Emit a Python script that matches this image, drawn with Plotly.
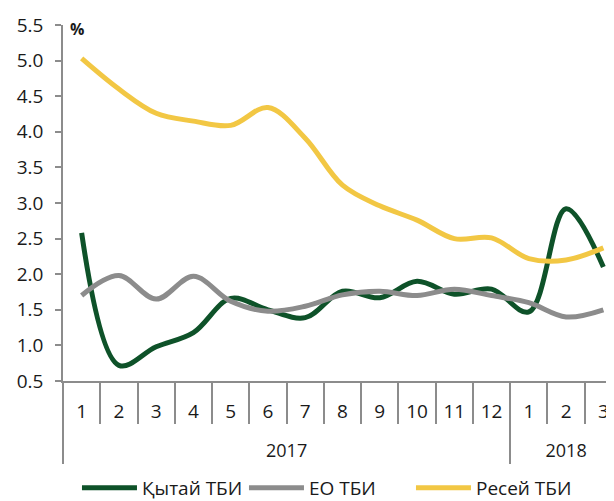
import plotly.graph_objects as go

# Categories
years = ["2017"] * 12 + ["2018"] * 3
months = [str(m) for m in range(1, 13)] + ["1", "2", "3"]
year_labels = ["2017", "2018"]

# Series values (%)
china = [2.58, 0.72, 0.98, 1.18, 1.66, 1.50, 1.39, 1.76, 1.67, 1.90, 1.72, 1.79, 1.47, 2.92, 2.10]
eu = [1.70, 1.98, 1.65, 1.97, 1.62, 1.48, 1.55, 1.71, 1.76, 1.70, 1.79, 1.70, 1.60, 1.40, 1.50]
russia = [5.03, 4.60, 4.26, 4.15, 4.09, 4.34, 3.91, 3.25, 2.96, 2.76, 2.50, 2.51, 2.22, 2.20, 2.37]

series = [
    ("Қытай ТБИ", china, "#0E5229"),
    ("ЕО ТБИ", eu, "#8C8C8C"),
    ("Ресей ТБИ", russia, "#F2C744"),
]

FONT = "Open Sans"
AXIS_GREY = "#8C8C8C"

cats = [f"{y}-{m}" for y, m in zip(years, months)]
n = len(cats)
x_range = [-0.5, n - 0.5]

# positions of year groups on the category scale
group_starts = [i for i in range(n) if i == 0 or years[i] != years[i - 1]]
group_ends = group_starts[1:] + [n]
group_centres = [(s + e - 1) / 2 for s, e in zip(group_starts, group_ends)]

fig = go.Figure()
for name, vals, color in series:
    fig.add_trace(
        go.Scatter(
            x=cats,
            y=vals,
            name=name,
            mode="lines",
            line=dict(color=color, width=5, shape="spline", smoothing=1.0),
        )
    )

# empty traces so the overlay axes (dividers, year labels) get drawn
for ax in ["x2", "x3", "x4"]:
    fig.add_trace(
        go.Scatter(
            x=x_range,
            y=[None, None],
            xaxis=ax,
            yaxis="y",
            mode="lines",
            showlegend=False,
            hoverinfo="skip",
        )
    )

fig.update_layout(
    width=614,
    height=501,
    margin=dict(l=55, r=0, t=17, b=128),
    plot_bgcolor="white",
    paper_bgcolor="white",
    font=dict(family=FONT, size=19, color="#1a1a1a"),
    showlegend=True,
    legend=dict(
        orientation="h",
        x=0.025,
        xanchor="left",
        y=-0.3,
        yanchor="middle",
        entrywidth=97,
        itemwidth=55,
        font=dict(size=19),
    ),
    # month labels
    xaxis=dict(
        type="category",
        range=x_range,
        tickvals=cats,
        ticktext=months,
        ticks="",
        showgrid=False,
        zeroline=False,
        showline=True,
        linecolor=AXIS_GREY,
        linewidth=1.5,
        ticklabelstandoff=12,
        automargin=False,
    ),
    # month dividers
    xaxis2=dict(
        overlaying="x",
        anchor="y",
        side="bottom",
        range=x_range,
        tickvals=[i - 0.5 for i in range(n + 1)],
        ticks="outside",
        ticklen=42,
        tickwidth=1.5,
        tickcolor=AXIS_GREY,
        showticklabels=False,
        showgrid=False,
        zeroline=False,
        showline=False,
        automargin=False,
    ),
    # year dividers
    xaxis3=dict(
        overlaying="x",
        anchor="y",
        side="bottom",
        range=x_range,
        tickvals=[s - 0.5 for s in group_starts] + [n - 0.5],
        ticks="outside",
        ticklen=82,
        tickwidth=1.5,
        tickcolor=AXIS_GREY,
        showticklabels=False,
        showgrid=False,
        zeroline=False,
        showline=False,
        automargin=False,
    ),
    # year labels
    xaxis4=dict(
        overlaying="x",
        anchor="y",
        side="bottom",
        range=x_range,
        tickvals=group_centres,
        ticktext=year_labels,
        ticks="",
        ticklabelstandoff=57,
        tickfont=dict(size=18),
        showgrid=False,
        zeroline=False,
        showline=False,
        automargin=False,
    ),
)

fig.update_yaxes(
    range=[0.5, 5.5],
    dtick=0.5,
    tickformat=".1f",
    showgrid=False,
    zeroline=False,
    showline=True,
    linecolor=AXIS_GREY,
    linewidth=1.5,
    ticks="outside",
    ticklen=6,
    tickwidth=1.5,
    tickcolor=AXIS_GREY,
    tickfont=dict(size=19),
    ticklabelstandoff=8,
    automargin=False,
)

fig.add_annotation(
    text="<b>%</b>",
    xref="paper",
    yref="paper",
    x=0.009,
    y=0.99,
    xanchor="left",
    yanchor="middle",
    showarrow=False,
    font=dict(size=16, family=FONT),
)

fig.write_html("out.html")
